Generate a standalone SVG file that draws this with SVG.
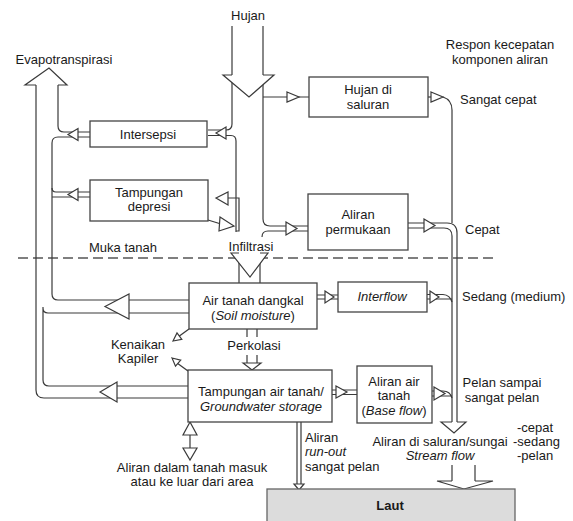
<svg xmlns="http://www.w3.org/2000/svg" width="573" height="521" viewBox="0 0 573 521">
<style>
.ln{fill:none;stroke:#3a3a3a;stroke-width:1.2}
.hd{fill:#fff;stroke:#3a3a3a;stroke-width:1.2;stroke-linejoin:miter}
.wf{fill:#fff;stroke:none}
.box{fill:#fff;stroke:#444;stroke-width:1.3}
.dash{fill:none;stroke:#555;stroke-width:1.3;stroke-dasharray:10 5}
text{font-family:"Liberation Sans",Arial,sans-serif;font-size:13px;fill:#1a1a1a}
.c{text-anchor:middle}
.i{font-style:italic}
</style>
<rect width="573" height="521" fill="#fff"/>
<line class="dash" x1="18" y1="258" x2="493" y2="258"/>
<g id="connectors">
  <!-- Hujan main arrow -->
  <path class="ln" d="M232,26 V124 Q232,130 226,130 H208"/>
  <path class="ln" d="M263,26 V219 Q263,226 270,226 H308"/>
  <path class="ln" d="M262,237 Q262,231 268,231 H308"/>
  <path class="wf" d="M223,75 L249,97 L274,75 Z"/>
  <polyline class="ln" points="232,75 223,75 249,97 274,75 263,75"/>
  <path class="ln" d="M263,97 H309"/>
  <polygon class="hd" points="287,92 299,97 287,102"/>
  <polygon class="hd" points="286,222 297,228.5 286,235"/>
  <!-- to Intersepsi and Tampungan depresi -->
  <path class="ln" d="M208,135.5 H231 Q236,135.5 236,141 V232"/>
  <polygon class="hd" points="216,133 226,127 226,139"/>
  <path class="ln" d="M228,198 H239 V231 H236"/>
  <polygon class="hd" points="216,198 228,192 228,205"/>
  <path class="ln" d="M208,220 L221,224"/>
  <polygon class="hd" points="220,217 234,226 219,231"/>
  <!-- Infiltrasi -->
  <path class="ln" d="M239,253 V283 M260,253 V283"/>
  <path class="wf" d="M231,253 L250,277 L268,253 Z"/>
  <polyline class="ln" points="239,253 231,253 250,277 268,253 260,253"/>
  <!-- Perkolasi -->
  <path class="ln" d="M247,329 V337 M257,329 V337 M247,355 V364 M257,355 V364"/>
  <polygon class="hd" points="243,363 252,370 261,363"/>
  <!-- Kenaikan kapiler -->
  <path class="ln" d="M189,329 L178,337"/>
  <polygon class="hd" points="173,341 177,333 181.8,339.4"/>
  <path class="ln" d="M188,371 L177,363"/>
  <polygon class="hd" points="172,358 180.7,360.2 175.5,366.2"/>
  <!-- Aliran dalam tanah -->
  <path class="ln" d="M190,435 V448"/>
  <polygon class="hd" points="190,422 183,435 197,435"/>
  <polygon class="hd" points="183,448 197,448 190,460"/>
  <!-- Evapotranspirasi -->
  <path class="ln" d="M36,85 V390 Q36,398 44,398 H188"/>
  <path class="ln" d="M58,85 V126 Q58,132 64,132 H90"/>
  <path class="ln" d="M90,137 H58 Q52,137 52,143 V294 Q52,300 58,300 H189"/>
  <path class="ln" d="M90,192 H56 Q52,192 52,188 M90,197 H52"/>
  <path class="ln" d="M189,313 H48 Q43,313 43,308 M43,307 V380 Q43,386 49,386 H188"/>
  <path class="wf" d="M25,85 L49,68 L67,85 Z"/>
  <polyline class="ln" points="36,85 25,85 49,68 67,85 58,85"/>
  <polygon class="hd" points="68,134.5 78,128.5 78,140.5"/>
  <polygon class="hd" points="68,194.5 78,188.5 78,200.5"/>
  <polygon class="hd" points="105,306.5 129,294 129,319"/>
  <polygon class="hd" points="100,392 117,382 117,402"/>
  <!-- Stream channel -->
  <path class="ln" d="M428,97 H432"/>
  <path class="ln" d="M443,97 Q452,100 452,110 V223"/>
  <polygon class="hd" points="431,92 443,97 431,102"/>
  <path class="ln" d="M408,223 H447 Q457,223 457,233 V422"/>
  <path class="ln" d="M408,228 H444 Q452,228 452,236 V422"/>
  <polygon class="hd" points="424,219 435,225.5 424,232"/>
  <!-- Interflow -->
  <path class="ln" d="M317,295 H338 M317,299 H338"/>
  <polygon class="hd" points="325,291 334,297 325,303"/>
  <path class="ln" d="M427,294.5 H443 Q450,295 452,302 M427,299 H452"/>
  <polygon class="hd" points="430,291 439,297 430,303"/>
  <!-- Base flow -->
  <path class="ln" d="M332,390 H357 M332,394.5 H357"/>
  <polygon class="hd" points="336,386 347,392 336,398"/>
  <path class="ln" d="M432,391 H443 Q450,391 452,398 M432,396 H452"/>
  <polygon class="hd" points="434,387 445,393.5 434,400"/>
  <!-- Stream flow head -->
  <path class="wf" d="M441,422 L454,433 L466,422 Z"/>
  <polyline class="ln" points="452,422 441,422 454,433 466,422 457,422"/>
  <!-- To Laut -->
  <path class="ln" d="M452,465 V481 M475,465 V481"/>
  <path class="wf" d="M437,481 L464,489 L493,481 Z"/>
  <polyline class="ln" points="452,481 437,481 464,489 493,481 475,481"/>
  <!-- run-out -->
  <path class="ln" d="M297,422 V484 M301,422 V484"/>
  <polygon class="hd" points="294,484 299,490 304,484"/>
</g>
<g id="hujan"><text class="c" x="248" y="20">Hujan</text></g>
<g id="evapotranspirasi"><text class="c" x="64" y="64">Evapotranspirasi</text></g>
<g id="respon"><text class="c" x="500" y="49">Respon kecepatan</text><text class="c" x="500" y="64">komponen aliran</text></g>
<g id="intersepsi"><rect class="box" x="90" y="121" width="117" height="26"/><text class="c" x="148" y="139">Intersepsi</text></g>
<g id="tampungan-depresi"><rect class="box" x="90" y="180" width="118" height="41"/><text class="c" x="149" y="197">Tampungan</text><text class="c" x="149" y="211">depresi</text></g>
<g id="hujan-saluran"><rect class="box" x="309" y="77" width="119" height="40"/><text class="c" x="368" y="94">Hujan di</text><text class="c" x="368" y="109">saluran</text></g>
<g id="sangat-cepat"><text x="460" y="104">Sangat cepat</text></g>
<g id="aliran-permukaan"><rect class="box" x="308" y="194" width="100" height="56"/><text class="c" x="358" y="219">Aliran</text><text class="c" x="358" y="234">permukaan</text></g>
<g id="cepat"><text x="465" y="234">Cepat</text></g>
<g id="muka-tanah"><text class="c" x="123" y="252">Muka tanah</text></g>
<g id="infiltrasi"><text class="c" x="251" y="251">Infiltrasi</text></g>
<g id="air-tanah-dangkal"><rect class="box" x="189" y="283" width="128" height="46"/><text class="c" x="253" y="305">Air tanah dangkal</text><text class="c" x="253" y="320">(<tspan class="i">Soil moisture</tspan>)</text></g>
<g id="interflow"><rect class="box" x="338" y="282" width="89" height="30"/><text class="c i" x="382" y="301">Interflow</text></g>
<g id="sedang"><text x="462" y="301">Sedang (medium)</text></g>
<g id="kenaikan-kapiler"><text class="c" x="138" y="349">Kenaikan</text><text class="c" x="138" y="363">Kapiler</text></g>
<g id="perkolasi"><text class="c" x="254" y="350">Perkolasi</text></g>
<g id="tampungan-air-tanah"><rect class="box" x="188" y="370" width="144" height="52"/><text class="c" x="261" y="396">Tampungan air tanah/</text><text class="c i" x="261" y="411">Groundwater storage</text></g>
<g id="aliran-air-tanah"><rect class="box" x="357" y="366" width="75" height="57"/><text class="c" x="394" y="386">Aliran air</text><text class="c" x="394" y="400">tanah</text><text class="c" x="394" y="415">(<tspan class="i">Base flow</tspan>)</text></g>
<g id="pelan"><text class="c" x="502" y="387">Pelan sampai</text><text class="c" x="502" y="402">sangat pelan</text></g>
<g id="aliran-dalam-tanah"><text class="c" x="192" y="472">Aliran dalam tanah masuk</text><text class="c" x="192" y="486">atau ke luar dari area</text></g>
<g id="run-out"><text x="305" y="442">Aliran</text><text class="i" x="305" y="456">run-out</text><text x="305" y="471">sangat pelan</text></g>
<g id="stream-flow"><text class="c" x="440" y="446">Aliran di saluran/sungai</text><text class="c i" x="440" y="460">Stream flow</text></g>
<g id="kecepatan"><text x="517" y="432">-cepat</text><text x="513" y="446">-sedang</text><text x="517" y="460">-pelan</text></g>
<g id="laut"><rect x="267" y="489" width="248" height="40" fill="#dcdcdc" stroke="#666" stroke-width="1.3"/><text class="c" x="390" y="510" font-weight="bold">Laut</text></g>
</svg>
